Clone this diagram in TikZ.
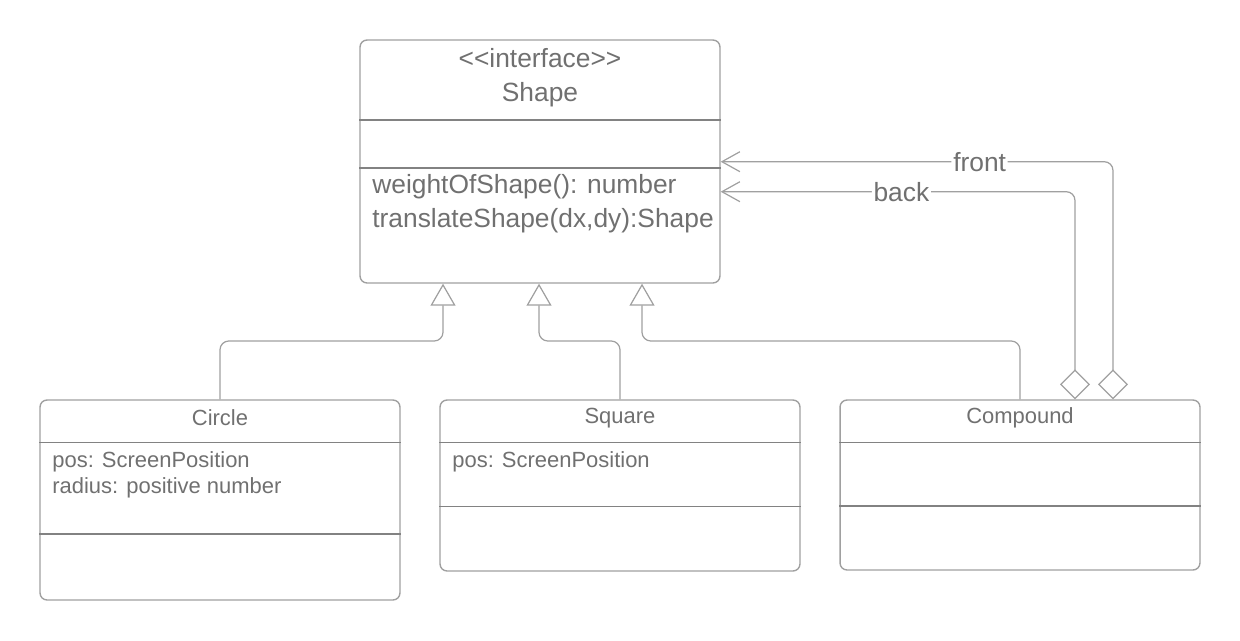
\documentclass[tikz,border=0pt]{standalone}
\usepackage{fontspec}
\setmainfont{Liberation Sans}
\usepackage{tikz}
\usetikzlibrary{arrows.meta, positioning}

\definecolor{linegray}{RGB}{160,160,160}
\definecolor{dividergray}{RGB}{130,130,130}
\definecolor{textgray}{RGB}{112,112,112}

\begin{document}
\begin{tikzpicture}[
            x=0.02cm, y=-0.02cm,
            classbox/.style={draw=linegray, line width=0.8pt, rounded corners=4pt, minimum width=7.2cm, inner sep=0pt},
            divider/.style={draw=dividergray, line width=0.7pt},
            bigtext/.style={text=textgray, inner sep=0pt, font=\fontsize{15}{19.5}\selectfont},
            smalltext/.style={text=textgray, inner sep=0pt, font=\fontsize{12.5}{14.7}\selectfont},
            members/.style={anchor=west, align=left},
            inherit/.style={draw=linegray, line width=0.7pt, rounded corners=5pt, -{Triangle[open, length=4.4mm, width=5mm]}},
            aggregate/.style={draw=linegray, line width=0.7pt, rounded corners=5pt, {Diamond[open, length=6mm, width=6mm]}-{Straight Barb[length=3.6mm, width=4mm]}},
            role/.style={bigtext, fill=white, inner sep=1pt}
        ]
        \useasboundingbox (0,0) rectangle (1240,640);

        % Classi
        \node[classbox, minimum height=4.86cm] (shape) at (540,161.5) {};
        \node[classbox, minimum height=4cm] (circle) at (220,500) {};
        \node[classbox, minimum height=3.42cm] (square) at (620,485.5) {};
        \node[classbox, minimum height=3.4cm] (compound) at (1020,485) {};

        % Separatori
        \draw[divider] (shape.west |- 0,120) -- (shape.east |- 0,120);
        \draw[divider] (shape.west |- 0,168) -- (shape.east |- 0,168);
        \draw[divider] (circle.west |- 0,442.7) -- (circle.east |- 0,442.7);
        \draw[divider] (circle.west |- 0,534) -- (circle.east |- 0,534);
        \draw[divider] (square.west |- 0,442.7) -- (square.east |- 0,442.7);
        \draw[divider] (square.west |- 0,506.7) -- (square.east |- 0,506.7);
        \draw[divider] (compound.west |- 0,442.3) -- (compound.east |- 0,442.3);
        \draw[divider] (compound.west |- 0,506) -- (compound.east |- 0,506);

        % Testi
        \node[bigtext, align=center] (shapeName) at (540,78) {<\kern0pt<interface>\kern0pt>\\Shape};
        \node[bigtext, members] (shapeOps) at (372,204) {weightOfShape(): number\\translateShape(dx,dy):Shape};
        \node[smalltext] (circleName) at (220,418) {Circle};
        \node[smalltext, members] (circleAttrs) at (52,475) {pos: ScreenPosition\\radius: positive number};
        \node[smalltext] (squareName) at (620,418) {Square};
        \node[smalltext, members] (squareAttrs) at (452,462) {pos: ScreenPosition};
        \node[smalltext] (compoundName) at (1020,418) {Compound};

        % Ereditarieta
        \draw[inherit] (circle.north) -- (220,341) -- (443,341) -- (shape.south -| 443,0);
        \draw[inherit] (square.north) -- (620,341) -- (539,341) -- (shape.south -| 539,0);
        \draw[inherit] (compound.north) -- (1020,341) -- (642,341) -- (shape.south -| 642,0);

        % Aggregazioni
        \coordinate (backFoot) at (compound.north -| 1075,0);
        \coordinate (frontFoot) at (compound.north -| 1113,0);
        \draw[aggregate] (backFoot) -- (1075,191.7) -- node[role, pos=0.49] {back} (shape.east |- 0,191.7);
        \draw[aggregate] (frontFoot) -- (1113,161.7) -- node[role, pos=0.34] {front} (shape.east |- 0,161.7);

        \end{tikzpicture}
\end{document}
